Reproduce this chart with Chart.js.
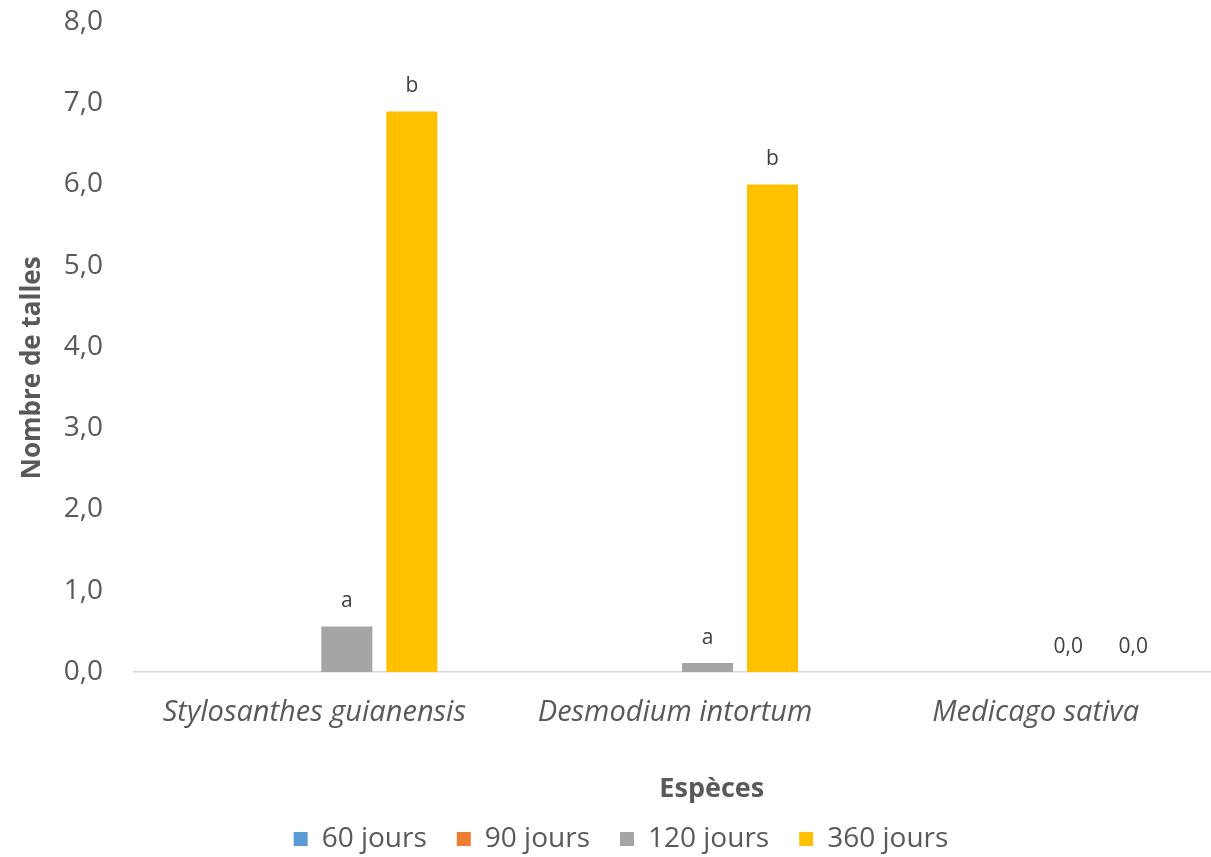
<!DOCTYPE html>
<html>
<head>
<meta charset="utf-8">
<script src="https://cdn.jsdelivr.net/npm/chart.js@4/dist/chart.umd.min.js"></script>
<style>
  html, body { margin: 0; padding: 0; background: #ffffff; overflow: hidden; }
  #wrap { width: 1216px; height: 857px; }
</style>
</head>
<body>
<div id="wrap"><canvas id="chart" width="1216" height="857"></canvas></div>
<script>
// Species on the x axis
const especes = ['Stylosanthes guianensis', 'Desmodium intortum', 'Medicago sativa'];

// Number of tillers per age class
const jours60  = [0, 0, 0];
const jours90  = [0, 0, 0];
const jours120 = [0.56, 0.11, 0];
const jours360 = [6.9, 6.0, 0];

// Letters / values printed above the bars
const etiquettes60  = ['', '', ''];
const etiquettes90  = ['', '', ''];
const etiquettes120 = ['a', 'a', '0,0'];
const etiquettes360 = ['b', 'b', '0,0'];

// Y axis tick labels (0 to 8, step 1)
const yTicks = ['0,0', '1,0', '2,0', '3,0', '4,0', '5,0', '6,0', '7,0', '8,0'];

const FONT = '"Open Sans", "DejaVu Sans", sans-serif';

const dataLabels = {
  id: 'dataLabels',
  afterDatasetsDraw(chart) {
    const ctx = chart.ctx;
    ctx.save();
    ctx.font = '21px ' + FONT;
    ctx.fillStyle = '#404040';
    ctx.textAlign = 'center';
    ctx.textBaseline = 'middle';
    chart.data.datasets.forEach((ds, i) => {
      const meta = chart.getDatasetMeta(i);
      meta.data.forEach((bar, j) => {
        const t = ds.etiquettes[j];
        if (t) ctx.fillText(t, bar.x, bar.y - 25);
      });
    });
    ctx.restore();
  }
};

// Axis titles: x title under the category labels, y title rotated on the left
const axisTitles = {
  id: 'axisTitles',
  afterDraw(chart) {
    const a = chart.chartArea;
    const ctx = chart.ctx;
    ctx.save();
    ctx.fillStyle = '#595959';
    ctx.textAlign = 'center';
    ctx.textBaseline = 'middle';
    ctx.font = 'bold 27px ' + FONT;
    ctx.fillText('Espèces', a.left + (a.right - a.left) * 0.534, a.bottom + 117);
    ctx.font = 'bold 26px ' + FONT;
    ctx.translate(33, a.top + (a.bottom - a.top) * 0.532);
    ctx.rotate(-Math.PI / 2);
    ctx.fillText('Nombre de talles', 0, 0);
    ctx.restore();
  }
};

// Nudge the legend row
const legendShift = {
  id: 'legendShift',
  afterLayout(chart) {
    const lg = chart.legend;
    if (!lg) return;
    lg.left += 13; lg.right += 13;
    lg.top += 6; lg.bottom += 6;
  }
};

new Chart(document.getElementById('chart'), {
  type: 'bar',
  data: {
    labels: especes,
    datasets: [
      { label: '60 jours',  data: jours60,  backgroundColor: '#5B9BD5', etiquettes: etiquettes60 },
      { label: '90 jours',  data: jours90,  backgroundColor: '#ED7D31', etiquettes: etiquettes90 },
      { label: '120 jours', data: jours120, backgroundColor: '#A5A5A5', etiquettes: etiquettes120 },
      { label: '360 jours', data: jours360, backgroundColor: '#FFC000', etiquettes: etiquettes360 }
    ]
  },
  options: {
    responsive: false,
    animation: false,
    devicePixelRatio: 1,
    layout: { padding: { top: 22, left: 0, right: 0, bottom: 0 } },
    datasets: {
      bar: { categoryPercentage: 0.721, barPercentage: 0.785, borderWidth: 0 }
    },
    plugins: {
      tooltip: { enabled: false },
      legend: {
        position: 'bottom',
        labels: {
          font: { family: FONT, size: 28 },
          color: '#595959',
          boxWidth: 14,
          boxHeight: 14,
          padding: 30
        }
      }
    },
    scales: {
      x: {
        grid: { display: false, drawTicks: false },
        border: { display: true, color: '#D9D9D9', width: 1.5 },
        ticks: {
          font: { family: FONT, size: 29, style: 'italic' },
          color: '#595959',
          padding: 23,
          maxRotation: 0,
          autoSkip: false
        },
        afterFit(s) { s.height = 117; }
      },
      y: {
        min: 0,
        max: 8,
        grid: { display: false, drawTicks: false },
        border: { display: false },
        ticks: {
          stepSize: 1,
          font: { family: FONT, size: 28 },
          color: '#595959',
          padding: 31,
          callback: (v) => yTicks[Math.round(v)]
        },
        afterFit(s) {
          s.width = 134;
          s.paddingTop = 17;
          s.paddingBottom = 17;
        }
      }
    }
  },
  plugins: [dataLabels, axisTitles, legendShift]
});
</script>
</body>
</html>
